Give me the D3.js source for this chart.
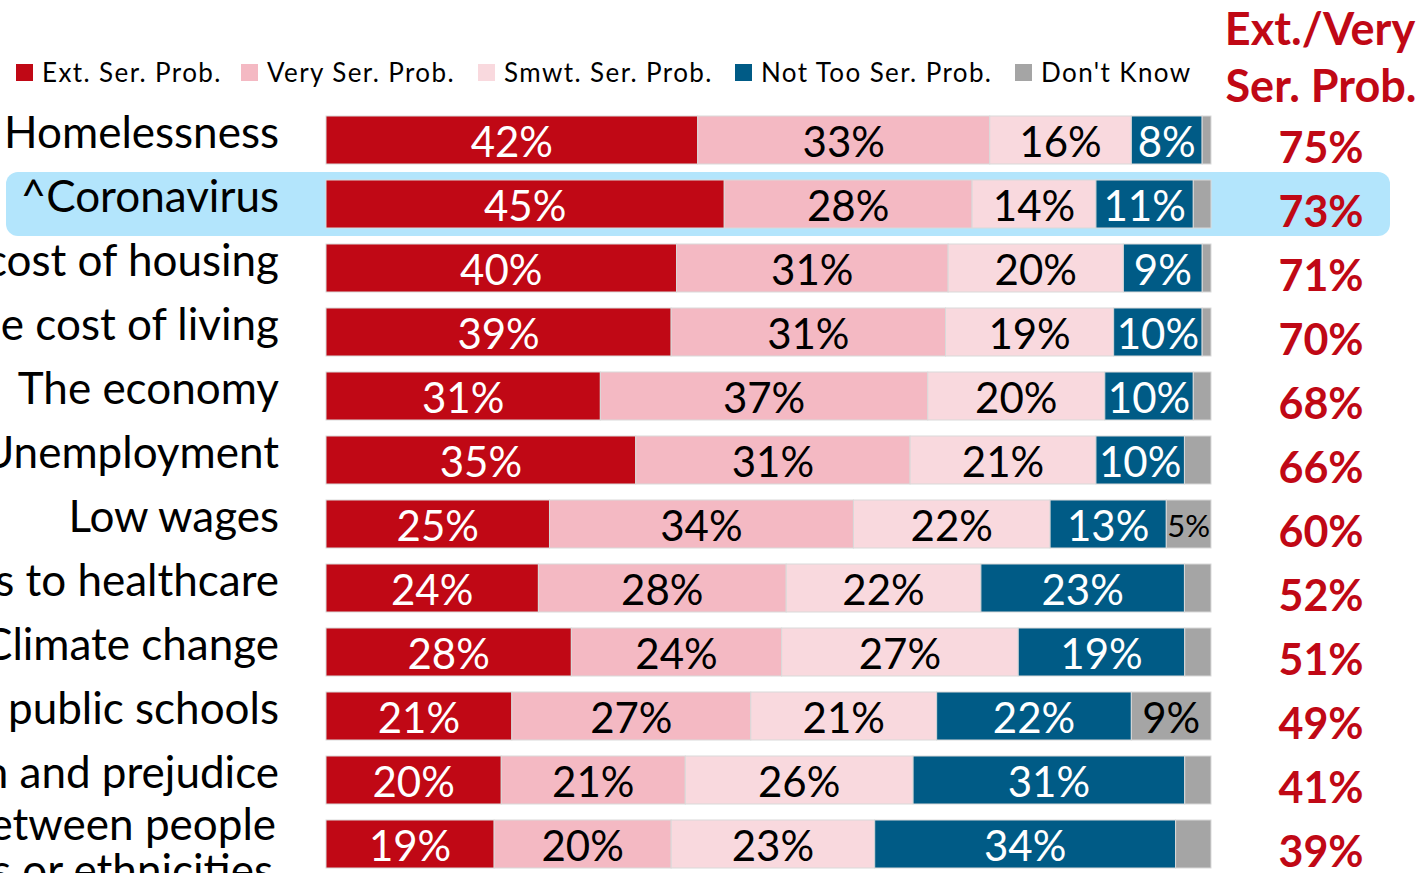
<!DOCTYPE html>
<html>
<head>
<meta charset="utf-8">
<script src="https://cdn.jsdelivr.net/npm/d3@7"></script>
<style>
  body { margin: 0; background: #fff; overflow: hidden; }
  svg { display: block; }
</style>
</head>
<body>
<svg></svg>
<script>
// datos
var categories = [
  "Homelessness", "^Coronavirus", "The cost of housing", "The cost of living",
  "The economy", "Unemployment", "Low wages", "Access to healthcare",
  "Climate change", "Quality of public schools", "Discrimination and prejudice",
  "Relations between people|of different races or ethnicities"
];
var seriesNames = ["Ext. Ser. Prob.", "Very Ser. Prob.", "Smwt. Ser. Prob.", "Not Too Ser. Prob.", "Don't Know"];
var extremely = [42, 45, 40, 39, 31, 35, 25, 24, 28, 21, 20, 19];
var very      = [33, 28, 31, 31, 37, 31, 34, 28, 24, 27, 21, 20];
var somewhat  = [16, 14, 20, 19, 20, 21, 22, 22, 27, 21, 26, 23];
var notToo    = [8, 11, 9, 10, 10, 10, 13, 23, 19, 22, 31, 34];
var dontKnow  = [1, 2, 1, 1, 2, 3, 5, 3, 3, 9, 3, 4];
var extVery   = [75, 73, 71, 70, 68, 66, 60, 52, 51, 49, 41, 39];
var highlightRow = 1;

var colors = ["#c00815", "#f4b9c3", "#f9d9de", "#005b86", "#a5a5a5"];
var textColors = ["#fff", "#000", "#000", "#fff", "#000"];

var W = 1417, H = 873;
var font = "Lato, 'Open Sans', sans-serif";

var svg = d3.select("svg")
    .attr("width", W)
    .attr("height", H)
    .attr("font-family", font);

var keys = ["ext", "very", "smwt", "notToo", "dk"];
var rows = categories.map(function(c, i) {
  return { cat: c, ext: extremely[i], very: very[i], smwt: somewhat[i], notToo: notToo[i], dk: dontKnow[i], tot: extVery[i] };
});

var stack = d3.stack().keys(keys).offset(d3.stackOffsetExpand);
var series = stack(rows);

var x = d3.scaleLinear().domain([0, 1]).range([326, 1211]);
var y = d3.scaleBand().domain(d3.range(categories.length)).range([108, 876]).paddingInner(0.25).paddingOuter(0.125);

// resaltado de Coronavirus
svg.append("rect")
    .attr("x", 6)
    .attr("y", y(highlightRow) + y.bandwidth() / 2 - 32)
    .attr("width", 1384)
    .attr("height", 64)
    .attr("rx", 12)
    .attr("fill", "#b3e5fc");

// segmentos
var layer = svg.selectAll(".layer")
    .data(series)
    .enter().append("g")
    .attr("class", "layer");

layer.selectAll("rect")
    .data(function(d) { return d.map(function(p, i) { return { p: p, i: i, k: d.index }; }); })
    .enter().append("rect")
    .attr("x", function(d) { return x(d.p[0]); })
    .attr("y", function(d) { return y(d.i); })
    .attr("width", function(d) { return x(d.p[1]) - x(d.p[0]); })
    .attr("height", y.bandwidth())
    .attr("fill", function(d) { return colors[d.k]; })
    .attr("stroke", "#d9d9d9")
    .attr("stroke-width", 1);

layer.selectAll("text")
    .data(function(d) {
      return d.map(function(p, i) { return { p: p, i: i, k: d.index, v: rows[i][keys[d.index]] }; })
              .filter(function(e) { return e.k < 4 || e.v >= 5; });
    })
    .enter().append("text")
    .attr("x", function(d) { return (x(d.p[0]) + x(d.p[1])) / 2; })
    .attr("y", function(d) { return y(d.i) + y.bandwidth() / 2 + 1; })
    .attr("text-anchor", "middle")
    .attr("dominant-baseline", "central")
    .attr("font-size", function(d) { return (d.k == 4 && d.v < 9) ? 31 : 42; })
    .attr("fill", function(d) { return textColors[d.k]; })
    .text(function(d) { return d.v + "%"; });

// etiquetas de categoria
svg.selectAll(".cat")
    .data(rows)
    .enter().append("text")
    .attr("class", "cat")
    .attr("text-anchor", "end")
    .attr("font-size", 44)
    .attr("fill", "#000")
    .each(function(d, i) {
      var lines = d.cat.split("|");
      var cy = y(i) + y.bandwidth() / 2;
      var t = d3.select(this);
      lines.forEach(function(l, j) {
        t.append("tspan")
          .attr("x", lines.length > 1 ? 276 - j * 3 : 279)
          .attr("y", lines.length > 1 ? cy - 4 + j * 46 : cy + 8)
          .text(l);
      });
    });

// columna derecha
svg.selectAll(".tot")
    .data(rows)
    .enter().append("text")
    .attr("class", "tot")
    .attr("x", 1321)
    .attr("y", function(d, i) { return y(i) + y.bandwidth() / 2 + 6; })
    .attr("text-anchor", "middle")
    .attr("dominant-baseline", "central")
    .attr("font-size", 43)
    .attr("font-weight", "bold")
    .attr("fill", "#c00815")
    .text(function(d) { return d.tot + "%"; });

var head = svg.append("text")
    .attr("text-anchor", "middle")
    .attr("font-size", 45)
    .attr("font-weight", "bold")
    .attr("fill", "#c00815");
head.append("tspan").attr("x", 1320).attr("y", 45).text("Ext./Very");
head.append("tspan").attr("x", 1321).attr("y", 102).text("Ser. Prob.");

// leyenda
var legendX = [16, 241, 478, 735, 1015];
var legend = svg.selectAll(".leg")
    .data(seriesNames)
    .enter().append("g")
    .attr("class", "leg")
    .attr("transform", function(d, i) { return "translate(" + legendX[i] + ",64)"; });
legend.append("rect")
    .attr("width", 17).attr("height", 17)
    .attr("fill", function(d, i) { return colors[i]; });
legend.append("text")
    .attr("x", 26).attr("y", 18)
    .attr("font-size", 26)
    .attr("letter-spacing", 1.4)
    .attr("fill", "#000")
    .text(function(d) { return d; });
</script>
</body>
</html>
